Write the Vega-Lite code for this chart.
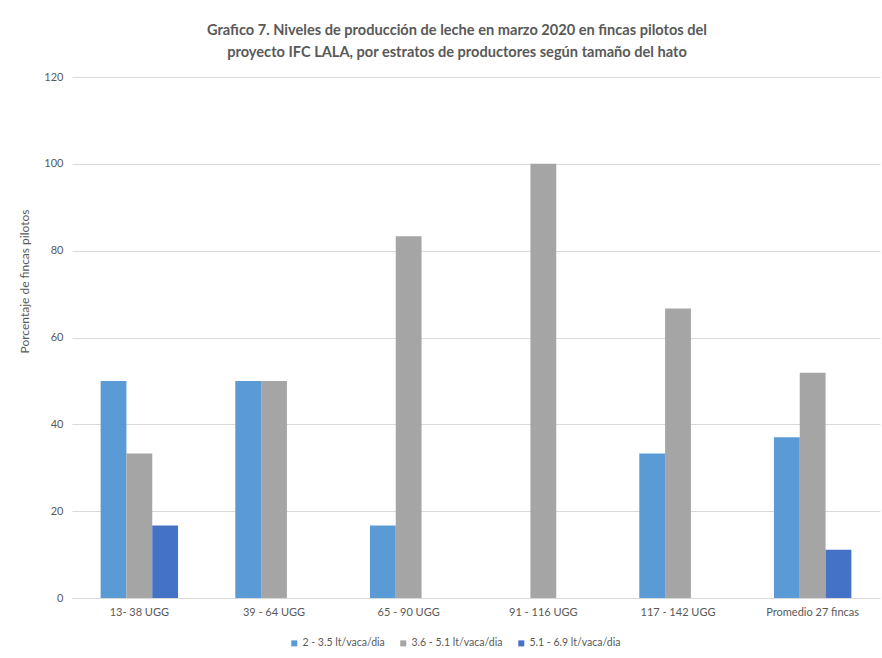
{
  "$schema": "https://vega.github.io/schema/vega-lite/v6.json",
  "autosize": "none",
  "width": 808,
  "height": 521,
  "padding": {"left": 72, "top": 77, "right": 2, "bottom": 60},
  "background": "white",
  "title": {
    "text": [
      "Grafico 7. Niveles de producción  de leche en marzo 2020 en fincas pilotos del",
      "proyecto IFC LALA, por estratos de productores según tamaño del hato"
    ],
    "anchor": "middle",
    "dx": -19,
    "offset": 11,
    "font": "Lato",
    "fontSize": 14.6,
    "fontWeight": "bold",
    "color": "#595959",
    "lineHeight": 22
  },
  "data": {
    "values": [
      {"estrato": "13- 38 UGG", "nivel": "2 - 3.5 lt/vaca/dia", "pct": 50},
      {"estrato": "13- 38 UGG", "nivel": "3.6 - 5.1 lt/vaca/dia", "pct": 33.3},
      {"estrato": "13- 38 UGG", "nivel": "5.1 - 6.9 lt/vaca/dia", "pct": 16.7},
      {"estrato": "39 - 64 UGG", "nivel": "2 - 3.5 lt/vaca/dia", "pct": 50},
      {"estrato": "39 - 64 UGG", "nivel": "3.6 - 5.1 lt/vaca/dia", "pct": 50},
      {"estrato": "39 - 64 UGG", "nivel": "5.1 - 6.9 lt/vaca/dia", "pct": 0},
      {"estrato": "65 - 90 UGG", "nivel": "2 - 3.5 lt/vaca/dia", "pct": 16.7},
      {"estrato": "65 - 90 UGG", "nivel": "3.6 - 5.1 lt/vaca/dia", "pct": 83.3},
      {"estrato": "65 - 90 UGG", "nivel": "5.1 - 6.9 lt/vaca/dia", "pct": 0},
      {"estrato": "91 - 116 UGG", "nivel": "2 - 3.5 lt/vaca/dia", "pct": 0},
      {"estrato": "91 - 116 UGG", "nivel": "3.6 - 5.1 lt/vaca/dia", "pct": 100},
      {"estrato": "91 - 116 UGG", "nivel": "5.1 - 6.9 lt/vaca/dia", "pct": 0},
      {"estrato": "117 - 142 UGG", "nivel": "2 - 3.5 lt/vaca/dia", "pct": 33.3},
      {"estrato": "117 - 142 UGG", "nivel": "3.6 - 5.1 lt/vaca/dia", "pct": 66.7},
      {"estrato": "117 - 142 UGG", "nivel": "5.1 - 6.9 lt/vaca/dia", "pct": 0},
      {"estrato": "Promedio 27 fincas", "nivel": "2 - 3.5 lt/vaca/dia", "pct": 37},
      {"estrato": "Promedio 27 fincas", "nivel": "3.6 - 5.1 lt/vaca/dia", "pct": 51.9},
      {"estrato": "Promedio 27 fincas", "nivel": "5.1 - 6.9 lt/vaca/dia", "pct": 11.1}
    ]
  },
  "mark": {"type": "bar"},
  "encoding": {
    "x": {
      "field": "estrato",
      "type": "nominal",
      "sort": null,
      "scale": {"paddingInner": 0.425, "paddingOuter": 0.2125},
      "axis": {
        "title": null,
        "labelAngle": 0,
        "ticks": false,
        "domainColor": "#d9d9d9",
        "labelPadding": 8,
        "labelFont": "Lato",
        "labelFontSize": 11,
        "labelColor": "#595959"
      }
    },
    "xOffset": {
      "field": "nivel",
      "type": "nominal",
      "sort": ["2 - 3.5 lt/vaca/dia", "3.6 - 5.1 lt/vaca/dia", "5.1 - 6.9 lt/vaca/dia"],
      "scale": {"paddingInner": 0, "paddingOuter": 0}
    },
    "y": {
      "field": "pct",
      "type": "quantitative",
      "scale": {"domain": [0, 120], "nice": false},
      "axis": {
        "title": "Porcentaje de fincas pilotos",
        "values": [0, 20, 40, 60, 80, 100, 120],
        "domain": false,
        "ticks": false,
        "gridColor": "#d9d9d9",
        "labelPadding": 9,
        "labelFont": "Lato",
        "labelFontSize": 11,
        "labelColor": "#595959",
        "titleFont": "Lato",
        "titleFontSize": 12,
        "titleFontWeight": "normal",
        "titleColor": "#595959",
        "titleX": -44,
        "titleY": 204,
        "titleAngle": -90,
        "titleAlign": "center",
        "titleBaseline": "alphabetic"
      }
    },
    "color": {
      "field": "nivel",
      "type": "nominal",
      "scale": {
        "domain": ["2 - 3.5 lt/vaca/dia", "3.6 - 5.1 lt/vaca/dia", "5.1 - 6.9 lt/vaca/dia"],
        "range": ["#5B9BD5", "#A5A5A5", "#4472C4"]
      },
      "legend": {
        "title": null,
        "orient": "none",
        "direction": "horizontal",
        "legendX": 217,
        "legendY": 561,
        "padding": 0,
        "symbolType": "square",
        "symbolSize": 36,
        "symbolStrokeWidth": 0,
        "labelOffset": 3,
        "columnPadding": 13,
        "labelFont": "Lato",
        "labelFontSize": 10.5,
        "labelColor": "#595959"
      }
    }
  },
  "config": {
    "view": {"stroke": null}
  }
}
